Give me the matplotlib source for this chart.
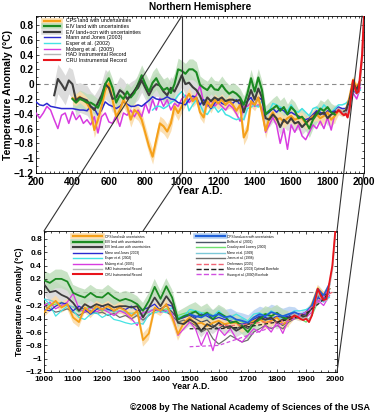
import matplotlib.pyplot as plt
import numpy as np
from matplotlib.lines import Line2D
from matplotlib.patches import ConnectionPatch
from matplotlib.ticker import MultipleLocator, FuncFormatter

plt.rcParams['font.family'] = ['Liberation Sans', 'DejaVu Sans']
plt.rcParams['font.weight'] = 'bold'
plt.rcParams['axes.labelweight'] = 'bold'

# ---- data (deg C anomaly) ----
# EIV land+ocean, 300-1980 every 20 years
eiv_lo_years = np.arange(300, 1981, 20)
eiv_lo = np.array([
    -0.15, 0.07, 0.0, -0.08, 0.05, 0.0, -0.22, -0.18, -0.2, -0.22,
    -0.3, -0.35, -0.25, -0.15, 0.0, -0.05, -0.2, -0.18, -0.08, -0.12,
    -0.2, -0.15, -0.1, -0.05, 0.05, -0.05, -0.15, -0.05, 0.0, -0.02,
    -0.1, -0.15, -0.05, -0.1, 0.0, 0.12, 0.0, 0.02, -0.04, -0.08,
    -0.16, -0.28, -0.18, -0.23, -0.18, -0.21, -0.18, -0.23, -0.21, -0.21,
    -0.23, -0.21, -0.38, -0.23, -0.08, -0.21, -0.06, -0.18, -0.46, -0.48,
    -0.41, -0.46, -0.58, -0.48, -0.53, -0.46, -0.53, -0.51, -0.58, -0.53,
    -0.48, -0.46, -0.38, -0.41, -0.38, -0.46, -0.41, -0.38, -0.35, -0.38,
    -0.36, -0.22, 0.02, -0.08, 0.05])
eiv_lo_err = np.array([
    0.18, 0.2, 0.2, 0.2, 0.18, 0.2, 0.22, 0.2, 0.2, 0.2,
    0.2, 0.2, 0.18, 0.18, 0.2, 0.2, 0.18, 0.18, 0.18, 0.18,
    0.18, 0.18, 0.16, 0.16, 0.16, 0.16, 0.16, 0.16, 0.16, 0.16,
    0.15, 0.15, 0.15, 0.15, 0.15, 0.15, 0.14, 0.14, 0.14, 0.14,
    0.12, 0.12, 0.12, 0.12, 0.12, 0.12, 0.12, 0.12, 0.12, 0.12,
    0.12, 0.12, 0.12, 0.12, 0.12, 0.12, 0.12, 0.12, 0.1, 0.1,
    0.1, 0.1, 0.1, 0.1, 0.1, 0.1, 0.1, 0.1, 0.1, 0.1,
    0.1, 0.1, 0.1, 0.1, 0.1, 0.1, 0.1, 0.1, 0.06, 0.06,
    0.05, 0.05, 0.05, 0.05, 0.05])

# EIV land, 400-1840
eiv_land_years = np.arange(400, 1841, 20)
eiv_land = np.array([
    -0.2, -0.25, -0.2, -0.22, -0.25, -0.25, -0.28, -0.32, -0.2, 0.0,
    0.08, -0.05, -0.25, -0.15, -0.2, -0.1, -0.18, -0.12, 0.0, 0.12,
    0.0, -0.1, 0.02, 0.08, -0.02, -0.08, -0.05, -0.12, 0.0, 0.2,
    0.18, 0.14, 0.2, 0.2, 0.16, -0.01, -0.05, -0.08, -0.01, -0.07,
    -0.08, -0.01, -0.08, -0.13, -0.1, -0.13, -0.18, -0.28, -0.13, 0.08,
    -0.1, 0.09, -0.08, -0.41, -0.36, -0.33, -0.29, -0.36, -0.31, -0.41,
    -0.31, -0.36, -0.46, -0.44, -0.51, -0.6, -0.48, -0.41, -0.33, -0.36,
    -0.31, -0.38, -0.41])
eiv_land_err = np.array([
    0.12, 0.12, 0.12, 0.12, 0.12, 0.12, 0.12, 0.12, 0.12, 0.12,
    0.12, 0.12, 0.12, 0.12, 0.12, 0.12, 0.14, 0.14, 0.14, 0.14,
    0.15, 0.15, 0.15, 0.15, 0.15, 0.15, 0.15, 0.15, 0.15, 0.15,
    0.14, 0.14, 0.14, 0.14, 0.14, 0.12, 0.12, 0.12, 0.12, 0.12,
    0.12, 0.12, 0.12, 0.12, 0.12, 0.12, 0.12, 0.12, 0.12, 0.12,
    0.12, 0.12, 0.12, 0.12, 0.12, 0.14, 0.14, 0.14, 0.14, 0.14,
    0.12, 0.12, 0.12, 0.12, 0.12, 0.12, 0.12, 0.12, 0.12, 0.12,
    0.12, 0.12, 0.12])

# CPS land, 400-1980
cps_land_years = np.arange(400, 1981, 20)
cps_land = np.array([
    -0.19, -0.21, -0.17, -0.21, -0.26, -0.35, -0.62, -0.48, -0.3, -0.08,
    0.01, -0.21, -0.44, -0.35, -0.21, -0.3, -0.48, -0.35, -0.39, -0.48,
    -0.66, -0.84, -0.98, -0.75, -0.53, -0.57, -0.64, -0.53, -0.3, -0.39,
    -0.3, -0.21, -0.13, -0.23, -0.18, -0.38, -0.45, -0.23, -0.31, -0.21,
    -0.26, -0.21, -0.28, -0.23, -0.28, -0.36, -0.28, -0.72, -0.62, -0.23,
    -0.28, -0.18, -0.38, -0.63, -0.46, -0.38, -0.48, -0.46, -0.51, -0.46,
    -0.43, -0.48, -0.46, -0.46, -0.53, -0.48, -0.43, -0.41, -0.46, -0.43,
    -0.38, -0.48, -0.43, -0.36, -0.38, -0.36, -0.18, 0.06, -0.04, 0.05])
cps_land_err = np.array([
    0.08, 0.08, 0.08, 0.08, 0.08, 0.1, 0.1, 0.1, 0.1, 0.1,
    0.1, 0.1, 0.1, 0.1, 0.1, 0.1, 0.1, 0.1, 0.1, 0.1,
    0.1, 0.1, 0.1, 0.1, 0.1, 0.1, 0.1, 0.1, 0.1, 0.1,
    0.08, 0.08, 0.08, 0.08, 0.08, 0.08, 0.08, 0.08, 0.08, 0.08,
    0.08, 0.08, 0.08, 0.08, 0.08, 0.08, 0.08, 0.1, 0.1, 0.08,
    0.08, 0.08, 0.08, 0.1, 0.08, 0.08, 0.08, 0.08, 0.08, 0.08,
    0.08, 0.08, 0.08, 0.08, 0.08, 0.08, 0.08, 0.08, 0.1, 0.1,
    0.08, 0.1, 0.08, 0.05, 0.05, 0.05, 0.05, 0.05, 0.05, 0.05])

# Mann and Jones (2003), 200-1980
mj_years = np.arange(200, 1981, 20)
mann_jones = np.array([
    -0.24, -0.28, -0.29, -0.26, -0.3, -0.31, -0.32, -0.33, -0.33, -0.33,
    -0.33, -0.34, -0.35, -0.35, -0.36, -0.3, -0.33, -0.42, -0.35, -0.24,
    -0.28, -0.3, -0.33, -0.3, -0.24, -0.27, -0.3, -0.3, -0.28, -0.3,
    -0.26, -0.22, -0.17, -0.2, -0.21, -0.2, -0.17, -0.2, -0.21, -0.25,
    -0.26, -0.28, -0.21, -0.16, -0.18, -0.28, -0.21, -0.26, -0.33, -0.26,
    -0.21, -0.26, -0.28, -0.23, -0.26, -0.21, -0.28, -0.26, -0.23, -0.18,
    -0.28, -0.18, -0.21, -0.41, -0.38, -0.33, -0.38, -0.33, -0.36, -0.41,
    -0.38, -0.41, -0.43, -0.46, -0.48, -0.46, -0.41, -0.36, -0.38, -0.41,
    -0.36, -0.38, -0.36, -0.31, -0.33, -0.33, -0.23, -0.08, -0.13, 0.0])

# Moberg et al. (2005), 200-1980
mob_years = np.arange(200, 1981, 20)
moberg = np.array([
    -0.39, -0.46, -0.39, -0.3, -0.35, -0.48, -0.6, -0.42, -0.39, -0.53,
    -0.37, -0.48, -0.42, -0.53, -0.48, -0.55, -0.44, -0.66, -0.44, -0.39,
    -0.51, -0.53, -0.42, -0.57, -0.39, -0.42, -0.35, -0.44, -0.35, -0.44,
    -0.26, -0.39, -0.21, -0.35, -0.19, -0.3, -0.21, -0.35, -0.26, -0.3,
    -0.2, -0.15, -0.25, -0.2, -0.15, -0.02, -0.25, -0.3, -0.22, -0.3,
    -0.25, -0.3, -0.35, -0.28, -0.32, -0.4, -0.5, -0.3, -0.3, -0.25,
    -0.3, -0.28, -0.32, -0.65, -0.55, -0.45, -0.55, -0.8, -0.6, -0.88,
    -0.55, -0.65, -0.55, -0.7, -0.75, -0.65, -0.55, -0.6, -0.5, -0.6,
    -0.45, -0.62, -0.4, -0.35, -0.4, -0.38, -0.3, -0.12, -0.2, -0.05])

# Esper et al. (2002), 840-1980
esp_years = np.arange(840, 1981, 20)
esper = np.array([
    -0.35, -0.3, -0.3, -0.33, -0.3, -0.25, -0.22, -0.15, -0.1, -0.18,
    -0.36, -0.28, -0.21, -0.28, -0.38, -0.41, -0.33, -0.31, -0.38, -0.33,
    -0.41, -0.43, -0.46, -0.48, -0.46, -0.48, -0.33, -0.31, -0.28, -0.31,
    -0.23, -0.38, -0.36, -0.26, -0.28, -0.31, -0.33, -0.36, -0.28, -0.36,
    -0.38, -0.33, -0.38, -0.43, -0.33, -0.31, -0.36, -0.28, -0.33, -0.38,
    -0.33, -0.28, -0.28, -0.26, -0.21, -0.08, -0.11, -0.08])

# instrumental records
inst_years = np.arange(1850, 2001, 10)
cru = np.array([-0.38, -0.35, -0.37, -0.4, -0.42, -0.4, -0.45, -0.35,
                -0.15, 0.05, -0.05, -0.12, -0.1, 0.15, 0.4, 0.92])
had = np.array([-0.35, -0.33, -0.35, -0.38, -0.4, -0.38, -0.42, -0.33,
                -0.18, 0.0, -0.08, -0.12, -0.12, 0.1, 0.35, 0.85])

# series only in the lower panel
cps_lo_years = np.arange(1500, 1981, 20)
cps_lo = np.array([
    -0.33, -0.36, -0.38, -0.33, -0.36, -0.33, -0.38, -0.36, -0.41, -0.43,
    -0.46, -0.38, -0.33, -0.36, -0.3, -0.33, -0.36, -0.33, -0.3, -0.35,
    -0.3, -0.2, 0.05, -0.05, 0.12])
cps_lo_err = np.array([
    0.1, 0.1, 0.1, 0.1, 0.1, 0.12, 0.12, 0.12, 0.12, 0.12,
    0.12, 0.12, 0.12, 0.12, 0.12, 0.12, 0.12, 0.12, 0.08, 0.06,
    0.06, 0.06, 0.06, 0.06, 0.06])

briffa_years = np.arange(1400, 1961, 20)
briffa = np.array([
    -0.25, -0.2, -0.3, -0.4, -0.38, -0.35, -0.4, -0.45, -0.42, -0.5,
    -0.55, -0.48, -0.52, -0.55, -0.5, -0.55, -0.45, -0.4, -0.42, -0.4,
    -0.45, -0.5, -0.42, -0.38, -0.35, -0.35, -0.22, -0.05, -0.12])

mil_years = np.arange(1000, 1981, 20)
crowley = np.array([
    -0.15, -0.2, -0.18, -0.15, -0.2, -0.22, -0.3, -0.25, -0.22, -0.25,
    -0.28, -0.25, -0.3, -0.28, -0.3, -0.32, -0.3, -0.35, -0.3, -0.25,
    -0.28, -0.25, -0.3, -0.35, -0.32, -0.3, -0.28, -0.32, -0.3, -0.35,
    -0.38, -0.35, -0.4, -0.42, -0.45, -0.48, -0.4, -0.35, -0.32, -0.35,
    -0.38, -0.42, -0.4, -0.38, -0.4, -0.45, -0.35, -0.15, -0.1, 0.0])
mann99 = np.array([
    -0.1, -0.12, -0.15, -0.18, -0.2, -0.22, -0.25, -0.28, -0.25, -0.22,
    -0.25, -0.28, -0.3, -0.28, -0.3, -0.32, -0.35, -0.32, -0.28, -0.25,
    -0.3, -0.28, -0.32, -0.38, -0.35, -0.32, -0.3, -0.33, -0.35, -0.38,
    -0.35, -0.38, -0.4, -0.42, -0.4, -0.45, -0.38, -0.35, -0.38, -0.35,
    -0.38, -0.4, -0.38, -0.35, -0.33, -0.3, -0.25, -0.1, -0.15, -0.05])
jones98 = np.array([
    -0.2, -0.25, -0.3, -0.28, -0.25, -0.3, -0.35, -0.3, -0.28, -0.32,
    -0.3, -0.35, -0.32, -0.38, -0.35, -0.4, -0.35, -0.42, -0.35, -0.28,
    -0.25, -0.3, -0.35, -0.45, -0.42, -0.45, -0.5, -0.6, -0.55, -0.7,
    -0.78, -0.72, -0.65, -0.7, -0.75, -0.72, -0.6, -0.55, -0.5, -0.55,
    -0.5, -0.55, -0.45, -0.4, -0.38, -0.35, -0.25, -0.08, -0.12, 0.0])

oerl_years = [1600, 1650, 1700, 1750, 1800, 1850, 1900, 1950, 1990]
oerlemans = [-0.5, -0.5, -0.48, -0.45, -0.45, -0.4, -0.3, -0.1, 0.0]
bore_years = [1500, 1600, 1700, 1800, 1850, 1900, 1950, 1980]
mann03_bore = [-0.55, -0.55, -0.52, -0.45, -0.4, -0.32, -0.15, 0.0]
huang_bore = [-0.82, -0.8, -0.65, -0.5, -0.42, -0.3, -0.12, 0.05]

C_ORANGE, C_ORANGE_B = '#f5a01a', '#fbdcaa'
C_GREEN, C_GREEN_B = '#1b8a22', '#bcdcb8'
C_DARK, C_DARK_B = '#3e3e3e', '#dcdcdc'
C_BLUE = '#2a2ad0'
C_CYAN = '#45e3e3'
C_MAG = '#d83ce0'
C_HAD = '#b4b4b4'
C_RED = '#e8141b'
C_CPSLO, C_CPSLO_B = '#1f60d8', '#b3cff2'


def sym(v, pos):
    if abs(v) < 1e-9:
        return '0'
    return ('%g' % v).replace('-', '\u2212')


def draw_common(ax, lw_main, lw_thin):
    ax.axhline(0, color='#8c8c8c', ls=(0, (4, 3)), lw=0.8, zorder=1)
    ax.fill_between(eiv_lo_years, eiv_lo - eiv_lo_err, eiv_lo + eiv_lo_err,
                    color=C_DARK_B, lw=0, zorder=1)
    ax.fill_between(eiv_land_years, eiv_land - eiv_land_err, eiv_land + eiv_land_err,
                    color=C_GREEN_B, lw=0, alpha=0.8, zorder=1)
    ax.fill_between(cps_land_years, cps_land - cps_land_err, cps_land + cps_land_err,
                    color=C_ORANGE_B, lw=0, alpha=0.9, zorder=1)
    ax.plot(mob_years, moberg, color=C_MAG, lw=lw_thin, zorder=3)
    ax.plot(esp_years, esper, color=C_CYAN, lw=lw_thin, zorder=3)
    ax.plot(mj_years, mann_jones, color=C_BLUE, lw=lw_thin, zorder=3)
    ax.plot(cps_land_years, cps_land, color=C_ORANGE, lw=lw_main, zorder=4)
    ax.plot(eiv_lo_years, eiv_lo, color=C_DARK, lw=lw_main, zorder=4)
    ax.plot(eiv_land_years, eiv_land, color=C_GREEN, lw=lw_main, zorder=4)
    ax.plot(inst_years, had, color=C_HAD, lw=lw_main, zorder=5)
    ax.plot(inst_years, cru, color=C_RED, lw=lw_main, zorder=6)


def style(ax, xmaj, xmin, tick_fs):
    ax.set_ylim(-1.2, 0.92)
    ax.xaxis.set_major_locator(MultipleLocator(xmaj))
    ax.xaxis.set_minor_locator(MultipleLocator(xmin))
    ax.yaxis.set_major_locator(MultipleLocator(0.2))
    ax.yaxis.set_minor_locator(MultipleLocator(0.1))
    ax.yaxis.set_major_formatter(FuncFormatter(sym))
    ax.tick_params(which='both', direction='in', top=True, right=True,
                   width=0.5, labelsize=tick_fs)
    ax.tick_params(axis='y', pad=1.5)
    ax.tick_params(axis='x', pad=3)
    ax.tick_params(which='major', length=2.5)
    ax.tick_params(which='minor', length=1.3)
    plt.setp(ax.get_xticklabels() + ax.get_yticklabels(), fontweight='bold')
    for s in ax.spines.values():
        s.set_linewidth(0.6)


fig = plt.figure(figsize=(3.75, 4.13), dpi=100)
ax1 = fig.add_axes([36 / 375, 1 - 173 / 413, 328 / 375, 157 / 413])
ax2 = fig.add_axes([44 / 375, 1 - 372 / 413, 293 / 375, 141 / 413])

# upper panel
draw_common(ax1, 1.5, 1.1)
ax1.set_xlim(200, 2000)
style(ax1, 200, 25, 7.3)
ax1.axvline(1000, color='#333333', lw=0.8, zorder=8)
ax1.set_xlabel('Year A.D.', fontsize=7.5, fontweight='bold', labelpad=-1)
ax1.set_ylabel('Temperature Anomaly (\u00b0C)', fontsize=7.5, fontweight='bold',
               labelpad=1)

band = lambda c: Line2D([], [], color=c, lw=4)
ln = lambda c, lw=1.5, ls='-': Line2D([], [], color=c, lw=lw, ls=ls)
top_handles = [(band(C_ORANGE_B), ln(C_ORANGE)), (band(C_GREEN_B), ln(C_GREEN)),
               (band(C_DARK_B), ln(C_DARK)), ln(C_BLUE, 1), ln(C_CYAN, 1),
               ln(C_MAG, 1), ln(C_HAD, 1), ln(C_RED)]
top_labels = ['CPS land with uncertainties', 'EIV land with uncertainties',
              'EIV land+ocn with uncertainties', 'Mann and Jones (2003)',
              'Esper et al. (2002)', 'Moberg et al. (2005)',
              'HAD Instrumental Record', 'CRU Instrumental Record']
ax1.legend(top_handles, top_labels, loc='upper left', bbox_to_anchor=(0.025, 0.985),
           prop={'size': 3.8, 'weight': 'normal'}, frameon=False, handlelength=3.0,
           handletextpad=1.2, labelspacing=0.12, borderpad=0, borderaxespad=0)

# lower panel
ax2.fill_between(cps_lo_years, cps_lo - cps_lo_err, cps_lo + cps_lo_err,
                 color=C_CPSLO_B, lw=0, alpha=0.8, zorder=1)
ax2.plot(mil_years, crowley, color='#6fe06f', lw=0.9, zorder=2)
ax2.plot(mil_years, mann99, color='#7cc8d8', lw=0.9, zorder=2)
ax2.plot(mil_years, jones98, color='#6e6e6e', lw=0.9, zorder=2)
ax2.plot(briffa_years, briffa, color='#4a5566', lw=0.9, zorder=2)
draw_common(ax2, 1.3, 0.9)
ax2.plot(cps_lo_years, cps_lo, color=C_CPSLO, lw=1.3, zorder=4)
ax2.plot(oerl_years, oerlemans, color='#f06474', lw=0.9, ls=(0, (3, 2)), zorder=5)
ax2.plot(bore_years, mann03_bore, color='#222222', lw=0.9, ls=(0, (3, 2)), zorder=5)
ax2.plot(bore_years, huang_bore, color='#d050e0', lw=0.9, ls=(0, (3, 2)), zorder=5)
ax2.set_xlim(1000, 2006)
style(ax2, 100, 25, 6)
ax2.set_xlabel('Year A.D.', fontsize=6.2, fontweight='bold', labelpad=-1)
ax2.set_ylabel('Temperature Anomaly (\u00b0C)', fontsize=6.2, fontweight='bold',
               labelpad=1)

left_handles = top_handles
left_labels = top_labels
right_handles = [(band(C_CPSLO_B), ln(C_CPSLO)), ln('#4a5566', 1), ln('#6fe06f', 1),
                 ln('#7cc8d8', 1), ln('#6e6e6e', 1), ln('#f06474', 1, '--'),
                 ln('#222222', 1, '--'), ln('#d050e0', 1, '--')]
right_labels = ['CPS land+ocn with uncertainties', 'Briffa et al. (2001)',
                'Crowley and Lowery (2000)', 'Mann et al. (1999)',
                'Jones et al. (1998)', 'Oerlemans (2005)',
                'Mann et al. (2003) Optimal Borehole', 'Huang et al. (2000) Borehole']
kw = dict(loc='upper left', prop={'size': 2.3, 'weight': 'normal'}, frameon=False,
          handlelength=9.0, handletextpad=0.9, labelspacing=0.45, borderpad=0,
          borderaxespad=0)
leg_l = ax2.legend(left_handles, left_labels, bbox_to_anchor=(0.1, 0.975), **kw)
ax2.add_artist(leg_l)
ax2.legend(right_handles, right_labels, bbox_to_anchor=(0.518, 0.975), **kw)

# zoom connector lines
conn = [((1000, 0.92), 'data', (0, 1)),
        ((1000, -1.2), 'data', (0.338, 1)),
        ((0.994, 1), 'axes fraction', (1, 1)),
        ((1, 0), 'axes fraction', (1, 0))]
for xa, ca, xb in conn:
    cp = ConnectionPatch(xyA=xa, coordsA=ca, axesA=ax1, xyB=xb,
                         coordsB='axes fraction', axesB=ax2,
                         color='#333333', lw=0.8, zorder=10)
    fig.add_artist(cp)

fig.text(200 / 375, 1 - 7 / 413, 'Northern Hemisphere', ha='center', va='center',
         fontsize=7.2, fontweight='bold')
fig.text(370 / 375, 1 - 407 / 413,
         '\u00a92008 by The National Academy of Sciences of the USA',
         ha='right', va='center', fontsize=6.5, fontweight='bold')

fig.savefig('out.png', dpi=100)
